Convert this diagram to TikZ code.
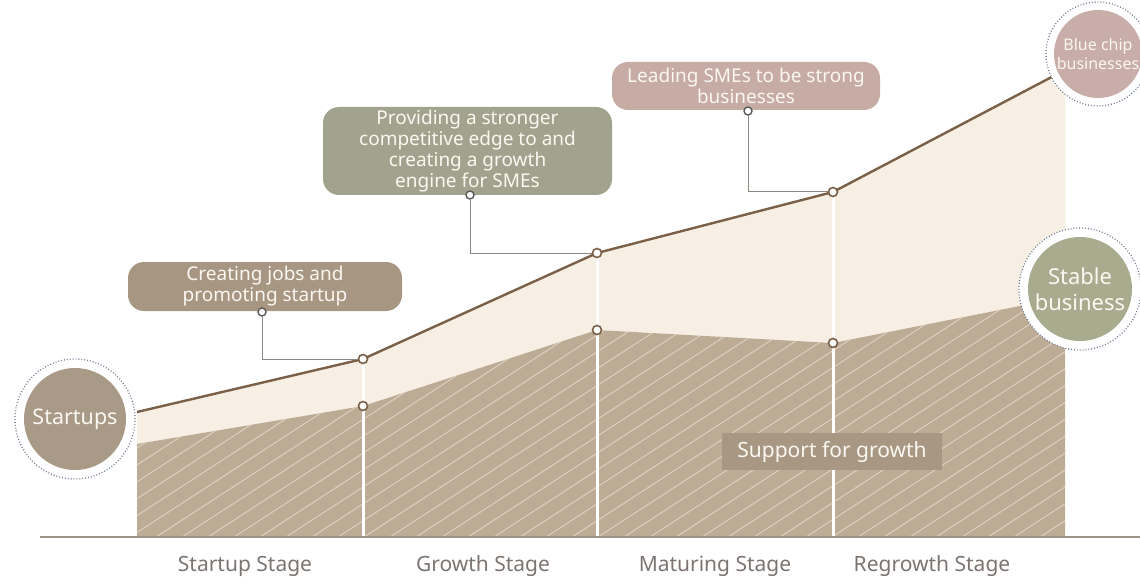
\documentclass[tikz,border=0pt]{standalone}
\usepackage{fontspec}
\setmainfont{Noto Sans}
\definecolor{lightfill}{HTML}{F7EFE4}
\definecolor{brownfill}{HTML}{BCAB95}
\definecolor{hatchc}{HTML}{DDD0BE}
\definecolor{topline}{HTML}{7A6048}
\definecolor{startc}{HTML}{A99A87}
\definecolor{callA}{HTML}{A69682}
\definecolor{callB}{HTML}{A2A38E}
\definecolor{callC}{HTML}{C7ABA5}
\definecolor{stablec}{HTML}{A8AB8E}
\definecolor{chipc}{HTML}{C8ADA8}
\definecolor{supportc}{HTML}{A79783}
\definecolor{stagec}{HTML}{7B7470}
\definecolor{dotc}{HTML}{6A7A90}
\definecolor{basec}{HTML}{9C948A}
\definecolor{connc}{HTML}{8E8780}
\definecolor{textw}{HTML}{FBF7F1}
\tikzset{
  callout/.style={rounded corners=16pt, text=textw, align=center, inner sep=0pt, font=\fontsize{19}{21}\selectfont},
  ring/.style={circle, draw=dotc, fill=white, line width=1.3pt, dash pattern=on 0.9pt off 2pt, inner sep=0pt},
  bigcirc/.style={circle, text=textw, align=center, inner sep=0pt},
  dotpt/.style={circle, draw=topline, fill=white, line width=1.6pt, minimum size=9pt, inner sep=0pt},
  pin/.style={circle, draw=black!65, fill=white, line width=1.4pt, minimum size=8pt, inner sep=0pt},
  conn/.style={draw=connc, line width=1pt},
  hatch/.style={draw=hatchc, line width=1pt},
  stage/.style={text=stagec, font=\fontsize{21}{24}\selectfont},
  divider/.style={draw=white, line width=3pt}
}
\begin{document}
\begin{tikzpicture}[x=1pt,y=-1pt]
\useasboundingbox (0,0) rectangle (1140,588);
% key coordinates
\coordinate (t0) at (137,412);
\coordinate (t1) at (363,359);
\coordinate (t2) at (597,253);
\coordinate (t3) at (833,192);
\coordinate (t4) at (1065,70);
\coordinate (b0) at (137,444);
\coordinate (b1) at (363,406);
\coordinate (b2) at (597,330);
\coordinate (b3) at (833,343);
\coordinate (b4) at (1065,297);
\coordinate (g0) at (137,537);
\coordinate (g4) at (1065,537);
\coordinate (g1) at (363,537);
\coordinate (g2) at (597,537);
\coordinate (g3) at (833,537);
\coordinate (l0) at (40,537);
\coordinate (l1) at (1140,537);
% light region
\fill[lightfill] (t0) -- (t1) -- (t2) -- (t3) -- (t4) -- (b4) -- (b3) -- (b2) -- (b1) -- (b0) -- cycle;
% brown region
\fill[brownfill] (b0) -- (b1) -- (b2) -- (b3) -- (b4) -- (g4) -- (g0) -- cycle;
\begin{scope}
\clip (b0) -- (b1) -- (b2) -- (b3) -- (b4) -- (g4) -- (g0) -- cycle;
\foreach \i in {0,...,54} \draw[hatch] ({-260+\i*26},537) -- ++({900*cos(33)},{-900*sin(33)});
\end{scope}
% dividers
\draw[divider] (t1) -- (g1);
\draw[divider] (t2) -- (g2);
\draw[divider] (t3) -- (g3);
% top line
\draw[topline, line width=2.4pt] (t0) -- (t1) -- (t2) -- (t3) -- (t4);
% baseline
\draw[basec, line width=1.5pt] (l0) -- (l1);
% support box
\node[fill=supportc, minimum width=220pt, minimum height=37pt, inner sep=0pt, text=textw, font=\fontsize{21}{24}\selectfont] (support) at (832,451.5) {Support for growth};
% callouts
\node[callout, fill=callA, minimum width=274pt, minimum height=49pt] (c1) at (265,286.5) {Creating jobs and\\promoting startup};
\node[callout, fill=callB, minimum width=289pt, minimum height=88pt] (c2) at (467.5,151) {Providing a stronger\\competitive edge to and\\creating a growth\\engine for SMEs};
\node[callout, fill=callC, minimum width=268pt, minimum height=48pt] (c3) at (746,86) {Leading SMEs to be strong\\businesses};
% connectors
\node[pin] (p1) at (262,312) {};
\node[pin] (p2) at (470,195) {};
\node[pin] (p3) at (748,111) {};
\draw[conn] (p1) |- (t1);
\draw[conn] (p2) |- (t2);
\draw[conn] (p3) |- (t3);
\foreach \n in {t1,t2,t3,b1,b2,b3} \node[dotpt] (d\n) at (\n) {};
% circles
\node[ring, minimum size=120pt] (r0) at (75,419) {};
\node[bigcirc, fill=startc, minimum size=102pt, font=\fontsize{21.5}{24}\selectfont] (startups) at (75,419) {Startups};
\node[ring, minimum size=104pt] (r1) at (1098,54) {};
\node[bigcirc, fill=chipc, minimum size=88pt, font=\fontsize{16}{19}\selectfont] (chip) at (1098,54) {Blue chip\\businesses};
\node[ring, minimum size=122pt] (r2) at (1080,289) {};
\node[bigcirc, fill=stablec, minimum size=104pt, font=\fontsize{22}{26}\selectfont] (stable) at (1080,289) {Stable\\business};
% stage labels
\node[stage] (s1) at (245,566) {Startup Stage};
\node[stage] (s2) at (483,566) {Growth Stage};
\node[stage] (s3) at (715,566) {Maturing Stage};
\node[stage] (s4) at (932,566) {Regrowth Stage};
\end{tikzpicture}
\end{document}
